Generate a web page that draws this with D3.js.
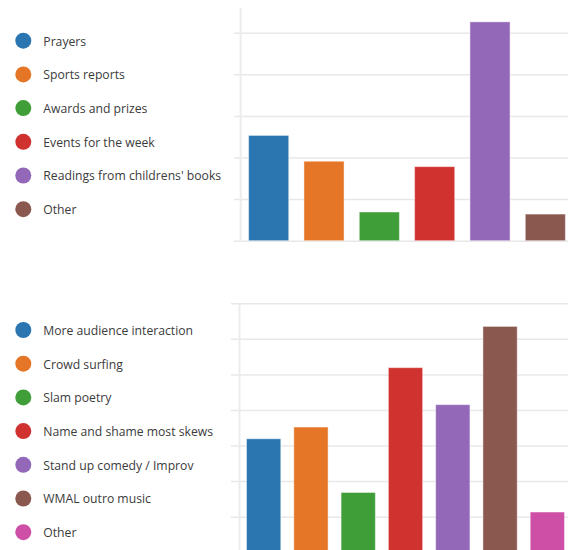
<!DOCTYPE html>
<html>
<head>
<meta charset="utf-8">
<script src="https://cdn.jsdelivr.net/npm/d3@7"></script>
<style>
  body { margin: 0; background: #fff; }
  svg { display: block; }
  .legend text { font-family: "Open Sans", "Noto Sans", sans-serif; font-size: 12.2px; fill: #3b3b3b; }
</style>
</head>
<body>
<svg id="chart" width="568" height="550"></svg>
<script>

// top chart
var topCategories = ['Prayers', 'Sports reports', 'Awards and prizes', 'Events for the week',
                     "Readings from childrens' books", 'Other'];
var topValues = [2.53, 1.91, 0.69, 1.78, 5.26, 0.64];
var topTicks = [0, 1, 2, 3, 4, 5];

// bottom chart
var bottomCategories = ['More audience interaction', 'Crowd surfing', 'Slam poetry',
                        'Name and shame most skews', 'Stand up comedy / Improv', 'WMAL outro music', 'Other'];
var bottomValues = [3.19, 3.52, 1.68, 5.19, 4.15, 6.35, 1.13];
var bottomTicks = [0, 1, 2, 3, 4, 5, 6, 7];

var colors = ['#2b76b0', '#e57627', '#3f9e38', '#d03230', '#9368b8', '#8b5850', '#cd4fa6'];

var svg = d3.select('#chart');

function drawChart(cats, vals, ticks, opt){

  var g = svg.append('g');

  var x = d3.scaleBand().domain(cats).range([opt.x0, opt.x1]).paddingInner(0.275).paddingOuter(0.1375);
  var y = d3.scaleLinear().domain([0, opt.ymax]).range([opt.base, opt.top]);

  // gridlines
  g.append('g')
    .attr('transform', 'translate(' + opt.gx + ',0)')
    .call(d3.axisLeft(y).tickValues(ticks).tickSize(-(568 - opt.gx)).tickFormat(''))
    .call(function(a){
      a.select('.domain').remove();
      a.selectAll('line').attr('stroke', '#e8e8e8').attr('stroke-width', 1.5);
    });

  // vertical axis line
  g.append('line')
    .attr('x1', opt.ax).attr('x2', opt.ax)
    .attr('y1', opt.top).attr('y2', opt.base)
    .attr('stroke', '#ececec')
    .attr('stroke-width', 2);

  g.selectAll('rect.bar')
    .data(vals)
    .join('rect')
    .attr('class', 'bar')
    .attr('x', function(d, i){ return x(cats[i]); })
    .attr('y', function(d){ return y(d); })
    .attr('width', x.bandwidth())
    .attr('height', function(d){ return opt.base - y(d); })
    .attr('fill', function(d, i){ return colors[i]; })
    .attr('stroke', 'rgba(255,255,255,0.45)')
    .attr('stroke-width', 1);

  // legend
  var leg = g.append('g').attr('class', 'legend')
    .selectAll('g')
    .data(cats)
    .join('g')
    .attr('transform', function(d, i){ return 'translate(0,' + (opt.ly + i * 33.7) + ')'; });

  leg.append('circle')
    .attr('cx', 23.3).attr('cy', 0).attr('r', 8)
    .attr('fill', function(d, i){ return colors[i]; });

  leg.append('text')
    .attr('x', 43.3).attr('y', 0.6)
    .attr('dy', '0.35em')
    .text(function(d){ return d; });
}

drawChart(topCategories, topValues, topTicks,
  {x0: 241, x1: 573, top: 7.7, base: 240.7, ymax: 5.6, gx: 234, ax: 240.7, ly: 40.7});

drawChart(bottomCategories, bottomValues, bottomTicks,
  {x0: 240, x1: 571, top: 303.3, base: 552.2, ymax: 7, gx: 231, ax: 239.5, ly: 330});

</script>
</body>
</html>
